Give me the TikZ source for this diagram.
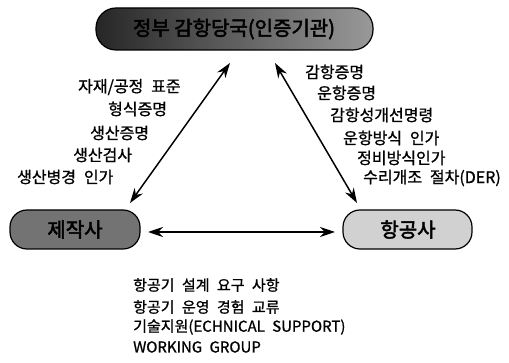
\documentclass[tikz,border=0pt]{standalone}
\usepackage{fontspec}
\setmainfont[WordSpace=2.2, FakeBold=1]{Noto Sans CJK KR}
\newfontfamily\krb[FakeBold=2.5]{Noto Sans CJK KR}
\usetikzlibrary{arrows.meta}
\tikzset{
  pill/.style={draw=black, line width=1.2pt, rounded corners=17pt, inner sep=0pt},
  lab/.style={anchor=west, inner sep=0pt, font=\fontsize{16}{16}\selectfont},
  blab/.style={anchor=west, inner sep=0pt, font=\fontsize{15}{15}\selectfont},
  dbl/.style={line width=1.5pt, {Stealth[length=15pt,width=10pt]}-{Stealth[length=15pt,width=10pt]}},
}
\begin{document}
\begin{tikzpicture}[x=1pt,y=-1pt]
\useasboundingbox (0,0) rectangle (509,363);
% boxes
\shade[draw=black, line width=1.2pt, rounded corners=20pt, left color=black!85, right color=black!40]
  (96,8) rectangle (373,50);
\node[inner sep=0pt, font=\krb\fontsize{20}{20}\selectfont, text=black] (top) at (234,29) {정부 감항당국(인증기관)};
\path[pill, fill=black!55] (10,210) rectangle (140,249);
\node[inner sep=0pt, font=\krb\fontsize{20}{20}\selectfont] (mfr) at (75,229.5) {제작사};
\path[pill, fill=black!18] (343,210) rectangle (472,249);
\node[inner sep=0pt, font=\krb\fontsize{20}{20}\selectfont] (air) at (408,229.5) {항공사};
% arrow endpoints
\coordinate (tl) at (230,63);
\coordinate (bl) at (130,203);
\coordinate (tr) at (275,63);
\coordinate (br) at (357,203);
\coordinate (hl) at (148,232);
\coordinate (hr) at (335,232);
\draw[dbl] (tl) -- (bl);
\draw[dbl] (tr) -- (br);
\draw[dbl] (hl) -- (hr);
% left labels
\node[lab] (l1) at (78,87) {자재/공정 표준};
\node[lab] (l2) at (108,109) {형식증명};
\node[lab] (l3) at (90,133) {생산증명};
\node[lab] (l4) at (73,155) {생산검사};
\node[lab] (l5) at (17,177) {생산병경 인가};
% right labels
\node[lab] (r1) at (305,72) {감항증명};
\node[lab] (r2) at (317,93) {운항증명};
\node[lab] (r3) at (330,115) {감항성개선명령};
\node[lab] (r4) at (343,138) {운항방식 인가};
\node[lab] (r5) at (357,158) {정비방식인가};
\node[lab] (r6) at (363,178) {수리개조 절차(DER)};
% bottom labels
\node[blab] (b1) at (133,285) {항공기 설계 요구 사항};
\node[blab] (b2) at (133,307) {항공기 운영 경험 교류};
\node[blab] (b3) at (133,327) {기술지원(ECHNICAL SUPPORT)};
\node[blab] (b4) at (133,347) {WORKING GROUP};
\end{tikzpicture}
\end{document}
